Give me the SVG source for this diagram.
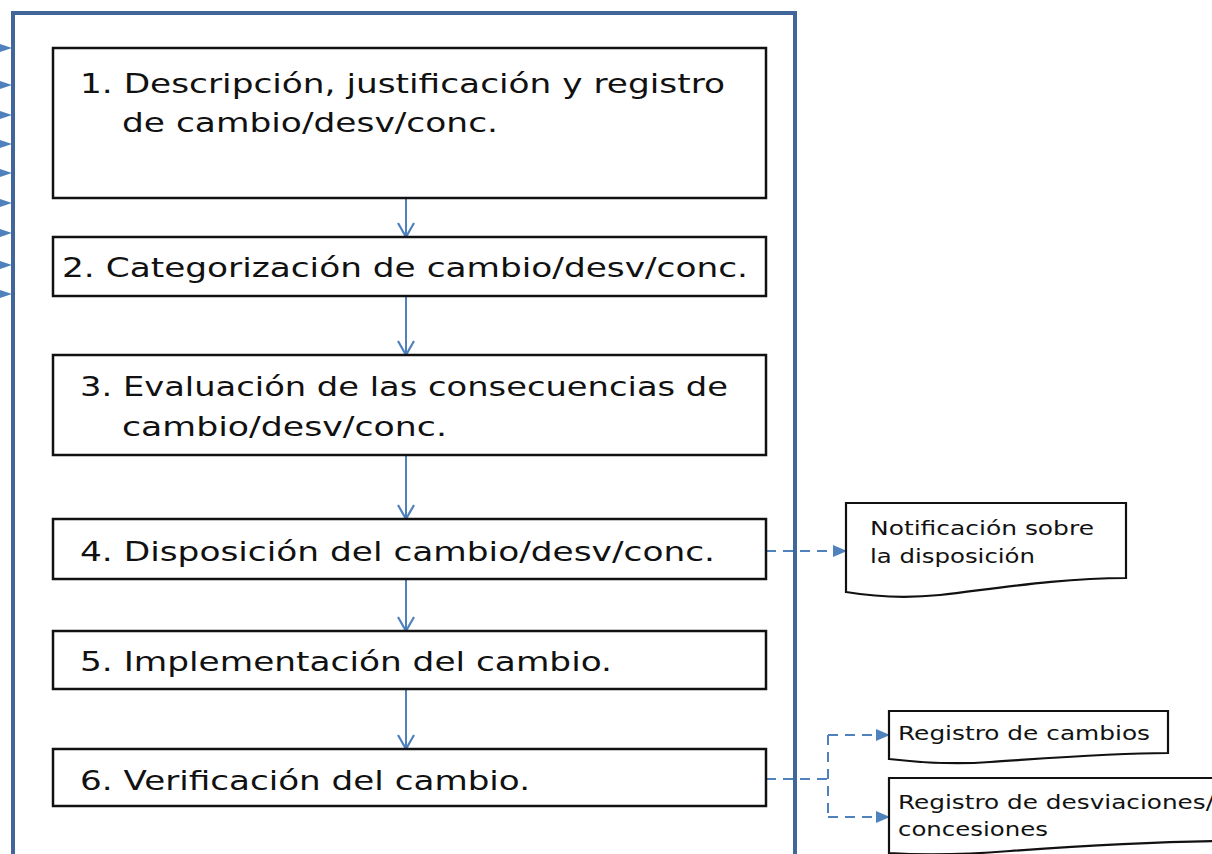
<svg xmlns="http://www.w3.org/2000/svg" width="1212" height="854" viewBox="0 0 1212 854">
<defs>
<style>
.box{fill:#fff;stroke:#111;stroke-width:2.5}
.doc{fill:#fff;stroke:#111;stroke-width:2.2}
.t{font-family:"DejaVu Sans","Liberation Sans",sans-serif;font-size:27px;fill:#111}
.s{font-family:"DejaVu Sans","Liberation Sans",sans-serif;font-size:20px;fill:#111}
.flow{stroke:#4f81bd;stroke-width:2;fill:none}
.dash{stroke:#4f81bd;stroke-width:2;fill:none;stroke-dasharray:10 7}
.frame{stroke:#41679a;stroke-width:4;fill:none}
.in{fill:#4f81bd}
</style>
<marker id="v" viewBox="0 0 20 20" refX="18" refY="10" markerWidth="20" markerHeight="20" markerUnits="userSpaceOnUse" orient="auto">
<path d="M4,2 L18,10 L4,18" fill="none" stroke="#4f81bd" stroke-width="2.2"/>
</marker>
<marker id="tri" viewBox="0 0 14 12" refX="13" refY="6" markerWidth="14" markerHeight="12" markerUnits="userSpaceOnUse" orient="auto">
<path d="M0,0 L14,6 L0,12 Z" fill="#4f81bd"/>
</marker>
</defs>
<rect width="1212" height="854" fill="#fff"/>
<path class="frame" d="M13,858 V13 H795 V858"/>
<g id="inputs">
<path class="in" d="M0,44 L12,48 L0,52 Z"/>
<path class="in" d="M0,81 L12,85 L0,89 Z"/>
<path class="in" d="M0,111 L12,115 L0,119 Z"/>
<path class="in" d="M0,140 L12,144 L0,148 Z"/>
<path class="in" d="M0,169 L12,173 L0,177 Z"/>
<path class="in" d="M0,199 L12,203 L0,207 Z"/>
<path class="in" d="M0,229 L12,233 L0,237 Z"/>
<path class="in" d="M0,261 L12,265 L0,269 Z"/>
<path class="in" d="M0,290 L12,294 L0,298 Z"/>
</g>
<g id="connectors">
<line class="flow" x1="406" y1="198" x2="406" y2="237" marker-end="url(#v)"/>
<line class="flow" x1="406" y1="296" x2="406" y2="355" marker-end="url(#v)"/>
<line class="flow" x1="406" y1="455" x2="406" y2="519" marker-end="url(#v)"/>
<line class="flow" x1="406" y1="579" x2="406" y2="631" marker-end="url(#v)"/>
<line class="flow" x1="406" y1="689" x2="406" y2="749" marker-end="url(#v)"/>
<line class="dash" x1="766" y1="551" x2="846" y2="551" marker-end="url(#tri)"/>
<path class="dash" d="M766,779 H828"/>
<path class="dash" d="M828,735 V817"/>
<line class="dash" x1="828" y1="735" x2="889" y2="735" marker-end="url(#tri)"/>
<line class="dash" x1="828" y1="817" x2="889" y2="817" marker-end="url(#tri)"/>
</g>
<g id="n1">
<rect class="box" x="53" y="48" width="713" height="150"/>
<text class="t" x="80" y="93" textLength="645" lengthAdjust="spacingAndGlyphs">1. Descripción, justificación y registro</text>
<text class="t" x="122" y="132" textLength="376" lengthAdjust="spacingAndGlyphs">de cambio/desv/conc.</text>
</g>
<g id="n2">
<rect class="box" x="53" y="237" width="713" height="59"/>
<text class="t" x="62" y="277" textLength="686" lengthAdjust="spacingAndGlyphs">2. Categorización de cambio/desv/conc.</text>
</g>
<g id="n3">
<rect class="box" x="53" y="355" width="713" height="100"/>
<text class="t" x="80" y="396" textLength="648" lengthAdjust="spacingAndGlyphs">3. Evaluación de las consecuencias de</text>
<text class="t" x="122" y="436" textLength="325" lengthAdjust="spacingAndGlyphs">cambio/desv/conc.</text>
</g>
<g id="n4">
<rect class="box" x="53" y="519" width="713" height="60"/>
<text class="t" x="80" y="561" textLength="635" lengthAdjust="spacingAndGlyphs">4. Disposición del cambio/desv/conc.</text>
</g>
<g id="n5">
<rect class="box" x="53" y="631" width="713" height="58"/>
<text class="t" x="80" y="671" textLength="532" lengthAdjust="spacingAndGlyphs">5. Implementación del cambio.</text>
</g>
<g id="n6">
<rect class="box" x="53" y="749" width="713" height="57"/>
<text class="t" x="80" y="790" textLength="450" lengthAdjust="spacingAndGlyphs">6. Verificación del cambio.</text>
</g>
<g id="d1">
<path class="doc" d="M846,503 H1126 V578 C1060,578 1000,588 940,595 C900,599 870,596 846,592 Z"/>
<text class="s" x="870" y="535" textLength="224" lengthAdjust="spacingAndGlyphs">Notificación sobre</text>
<text class="s" x="870" y="563" textLength="165" lengthAdjust="spacingAndGlyphs">la disposición</text>
</g>
<g id="d2">
<path class="doc" d="M889,711 H1168 V753 C1110,753 1050,758 990,762 C950,765 915,762 889,759 Z"/>
<text class="s" x="898" y="740" textLength="252" lengthAdjust="spacingAndGlyphs">Registro de cambios</text>
</g>
<g id="d3">
<path class="doc" d="M889,778 H1216 V841 C1150,842 1080,846 1010,851 C960,855 920,855 889,853 Z"/>
<text class="s" x="898" y="809" textLength="316" lengthAdjust="spacingAndGlyphs">Registro de desviaciones/</text>
<text class="s" x="898" y="836" textLength="150" lengthAdjust="spacingAndGlyphs">concesiones</text>
</g>
</svg>
